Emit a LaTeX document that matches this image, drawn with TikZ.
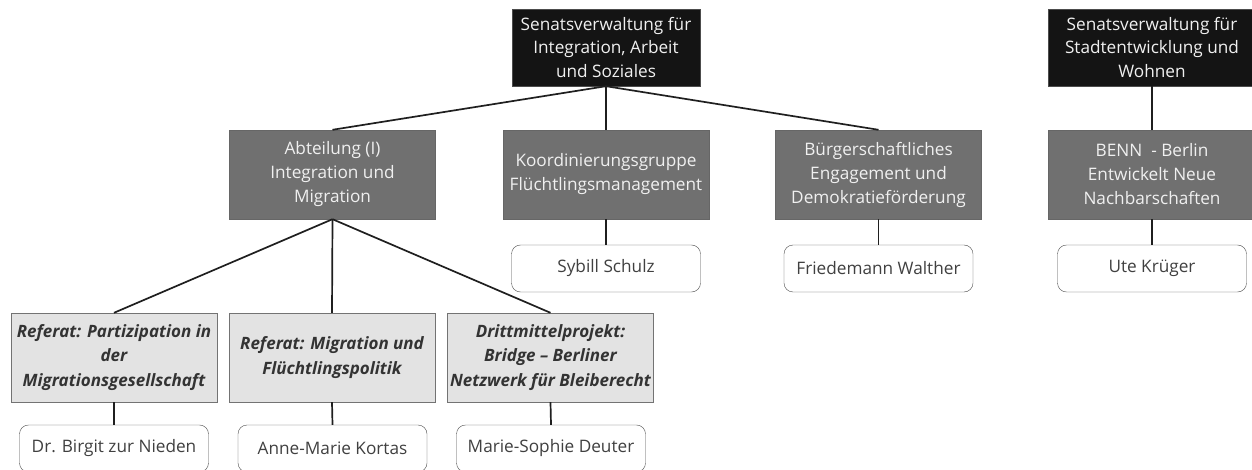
\documentclass[tikz,border=0pt]{standalone}
\usepackage{fontspec}
\setmainfont{Open Sans}
\begin{document}
\begin{tikzpicture}[x=1pt,y=-1pt,
  senat/.style={draw=black!70, fill=black!92, text=white!94!black, minimum width=188pt, minimum height=77pt, align=center, inner sep=1pt, font=\fontsize{17.2}{23.5}\selectfont},
  dept/.style={draw=black!60, fill=black!56, text=white!94!black, minimum width=206pt, minimum height=89pt, align=center, inner sep=1pt, font=\fontsize{17.2}{24}\selectfont},
  ref/.style={draw=black!55, fill=black!11, text=black!80, minimum width=206pt, minimum height=89pt, align=center, inner sep=1pt, font=\fontsize{17}{24.5}\selectfont\bfseries\itshape},
  person/.style={draw=black!70, fill=white, text=black!75, rounded corners=9pt, minimum width=189pt, minimum height=47pt, align=center, inner sep=1pt, font=\fontsize{17.2}{20}\selectfont},
  link/.style={draw=black!88, line width=1.7pt}
]
\useasboundingbox (0,0) rectangle (1252,470);
\node[senat] (s1) at (606,47.5) {Senatsverwaltung für\\Integration, Arbeit\\und Soziales};
\node[senat, minimum width=208pt] (s2) at (1152,47.5) {Senatsverwaltung für\\Stadtentwicklung und\\Wohnen};
\node[dept] (abt) at (332.5,174.5) {Abteilung (I)\\Integration und\\Migration};
\node[dept] (kg) at (606,174.5) {Koordinierungsgruppe\\Flüchtlingsmanagement};
\node[dept] (bg) at (878.5,174.5) {Bürgerschaftliches\\Engagement und\\Demokratieförderung};
\node[dept, minimum width=208pt] (benn) at (1152,174.5) {BENN\ \ - Berlin\\Entwickelt Neue\\Nachbarschaften};
\node[person] (p1) at (606,268.5) {Sybill Schulz};
\node[person] (p2) at (878.5,268.5) {Friedemann Walther};
\node[person] (p3) at (1152,268.5) {Ute Krüger};
\node[ref] (r1) at (114,357.5) {Referat: Partizipation in\\der\\Migrationsgesellschaft};
\node[ref] (r2) at (332,357.5) {Referat: Migration und\\Flüchtlingspolitik};
\node[ref] (r3) at (550.5,357.5) {Drittmittelprojekt:\\Bridge – Berliner\\Netzwerk für Bleiberecht};
\node[person] (q1) at (114,448.5) {Dr. Birgit zur Nieden};
\node[person] (q2) at (332.5,448.5) {Anne-Marie Kortas};
\node[person] (q3) at (551,448.5) {Marie-Sophie Deuter};
\draw[link] (s1.south) -- (abt.north);
\draw[link] (s1.south) -- (kg.north);
\draw[link] (s1.south) -- (bg.north);
\draw[link] (s2.south) -- (benn.north);
\draw[link] (kg.south) -- (p1.north);
\draw[link] (bg.south) -- (p2.north);
\draw[link] (benn.south) -- (p3.north);
\draw[link] (abt.south) -- (r1.north);
\draw[link] (abt.south) -- (r2.north);
\draw[link] (abt.south) -- (r3.north);
\draw[link] (r1.south) -- (q1.north);
\draw[link] (r2.south) -- (q2.north);
\draw[link] (r3.south) -- (q3.north);
\end{tikzpicture}
\end{document}
